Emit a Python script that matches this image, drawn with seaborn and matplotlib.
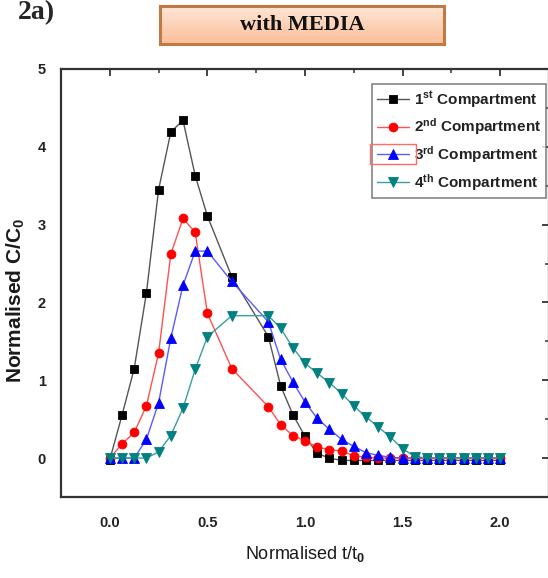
import numpy as np
import pandas as pd
import matplotlib
matplotlib.use("Agg")
import matplotlib.pyplot as plt
from matplotlib.ticker import MultipleLocator
from matplotlib.patches import Rectangle
import seaborn as sns

# Normalised time t/t0 (shared by all compartments)
t_norm = [0, 0.0625, 0.125, 0.1875, 0.25, 0.3125, 0.375, 0.4375, 0.5, 0.625,
          0.8125, 0.875, 0.9375, 1.0, 1.0625, 1.125, 1.1875, 1.25, 1.3125, 1.375,
          1.4375, 1.5, 1.5625, 1.625, 1.6875, 1.75, 1.8125, 1.875, 1.9375, 2.0]

# Normalised concentration C/C0 per compartment
comp1 = [-0.02, 0.55, 1.15, 2.12, 3.45, 4.19, 4.34, 3.63, 3.11, 2.33,
         1.56, 0.93, 0.56, 0.28, 0.06, 0.0, -0.03, -0.03, -0.03, -0.03,
         -0.03, -0.03, -0.03, -0.03, -0.03, -0.03, -0.03, -0.03, -0.03, -0.03]
comp2 = [0.0, 0.18, 0.33, 0.67, 1.35, 2.62, 3.08, 2.90, 1.86, 1.15,
         0.66, 0.43, 0.29, 0.22, 0.14, 0.11, 0.09, 0.03, 0.01, 0.0,
         0.0, 0.0, 0.0, 0.0, 0.0, 0.0, 0.0, 0.0, 0.0, 0.0]
comp3 = [0.0, 0.0, 0.0, 0.24, 0.71, 1.54, 2.22, 2.66, 2.66, 2.27,
         1.75, 1.27, 0.98, 0.72, 0.51, 0.37, 0.24, 0.15, 0.07, 0.035,
         0.01, 0.0, 0.0, 0.0, 0.0, 0.0, 0.0, 0.0, 0.0, 0.0]
comp4 = [0.0, 0.0, 0.0, 0.0, 0.08, 0.29, 0.64, 1.14, 1.56, 1.83,
         1.83, 1.67, 1.42, 1.22, 1.09, 0.97, 0.83, 0.67, 0.53, 0.40,
         0.27, 0.12, 0.02, 0.0, 0.0, 0.0, 0.0, 0.0, 0.0, 0.0]

labels = ["1$^{\\mathrm{st}}$ Compartment", "2$^{\\mathrm{nd}}$ Compartment",
          "3$^{\\mathrm{rd}}$ Compartment", "4$^{\\mathrm{th}}$ Compartment"]
series = [comp1, comp2, comp3, comp4]
markers = ["s", "o", "^", "v"]
marker_colors = ["#000000", "#FF0000", "#0000FF", "#008080"]
line_colors = ["#555555", "#FF5050", "#5A5AFF", "#3A9E9E"]
marker_sizes = [6.2, 6.4, 7.2, 7.2]

sns.set_theme(style="white")
plt.rcParams["font.family"] = ["Liberation Sans", "DejaVu Sans"]
plt.rcParams["mathtext.fontset"] = "custom"
plt.rcParams["mathtext.rm"] = "Liberation Sans:bold"
plt.rcParams["mathtext.it"] = "Liberation Sans:bold:italic"
plt.rcParams["mathtext.bf"] = "Liberation Sans:bold"

W, H = 548, 578
fig = plt.figure(figsize=(W / 100, H / 100), dpi=100)
fig.patch.set_facecolor("white")

ax_l, ax_r, ax_t, ax_b = 61, 549, 69, 497
ax = fig.add_axes([ax_l / W, 1 - ax_b / H, (ax_r - ax_l) / W, (ax_b - ax_t) / H])
ax.set_facecolor("white")

for vals, lab, mk, mc, lc, ms in zip(series, labels, markers, marker_colors,
                                     line_colors, marker_sizes):
    df = pd.DataFrame({"t": t_norm, "c": vals})
    sns.lineplot(data=df, x="t", y="c", ax=ax, color=lc, linewidth=1.0,
                 marker=mk, markersize=ms, markerfacecolor=mc,
                 markeredgecolor=mc, markeredgewidth=0.6, label=lab,
                 estimator=None, sort=False)

ax.set_xlim(-0.25, 2.25)
ax.set_ylim(-0.5, 5)
ax.xaxis.set_minor_locator(MultipleLocator(0.25))
ax.yaxis.set_minor_locator(MultipleLocator(0.5))
ax.set_xticks([0, 0.5, 1.0, 1.5, 2.0])
ax.set_xticklabels(["0.0", "0.5", "1.0", "1.5", "2.0"])
ax.set_yticks([0, 1, 2, 3, 4, 5])
ax.set_yticklabels(["0", "1", "2", "3", "4", "5"])

spine_col = "#333333"
for s in ax.spines.values():
    s.set_color(spine_col)
    s.set_linewidth(1.6)

ax.tick_params(axis="both", which="major", direction="out", length=5,
               width=1.3, color=spine_col, labelsize=10.5, pad=6,
               labelcolor="#222222")
ax.tick_params(axis="both", which="minor", direction="out", length=3,
               width=1.1, color=spine_col)
ax.tick_params(axis="x", which="major", pad=9)
ax.tick_params(axis="x", which="both", top=True)
ax.tick_params(axis="y", which="both", right=True)
for lab in ax.get_xticklabels() + ax.get_yticklabels():
    lab.set_fontweight("bold")
# inward ticks on the top and right frame
for tl in ax.xaxis.get_ticklines(minor=False)[1::2] + ax.xaxis.get_ticklines(minor=True)[1::2]:
    tl.set_marker(3)
for tl in ax.yaxis.get_ticklines(minor=False)[1::2] + ax.yaxis.get_ticklines(minor=True)[1::2]:
    tl.set_marker(0)

ax.set_xlabel("Normalised t/t$_{\\mathrm{0}}$", fontsize=13, color="#1a1a1a",
              labelpad=10)
ax.set_ylabel("Normalised C/C$_{\\mathrm{0}}$", fontsize=15, fontweight="bold",
              color="#1a1a1a")
ax.yaxis.set_label_coords(-0.07, 0.46)

leg = ax.legend(loc="upper right", bbox_to_anchor=(0.994, 0.965),
                borderaxespad=0, frameon=True, fancybox=False,
                prop={"weight": "bold", "size": 11}, handlelength=2.1,
                handletextpad=0.3, labelspacing=0.44, borderpad=0.34)
leg.get_frame().set_edgecolor("#666666")
leg.get_frame().set_linewidth(1.2)
for txt in leg.get_texts():
    txt.set_color("#222222")

# selection outline around the third legend key
fig.canvas.draw()
key = leg.legend_handles[2]
bb = key.get_window_extent(fig.canvas.get_renderer())
pad_x, pad_y = 2, 10
sel = Rectangle((bb.x0 - pad_x, bb.y0 + bb.height / 2 - pad_y),
                bb.width + 2 * pad_x, 2 * pad_y, transform=None,
                fill=False, edgecolor="#FF6A6A", linewidth=1.0, zorder=10)
fig.patches.append(sel)

# panel tag
fig.text(18 / W, 1 - 13 / H, "2a)", fontsize=20, fontweight="bold",
         family=["Liberation Serif", "DejaVu Serif"], va="center", ha="left")

# title badge with a soft orange gradient
bx_l, bx_r, bx_t, bx_b = 160, 444, 6, 44
bax = fig.add_axes([bx_l / W, 1 - bx_b / H, (bx_r - bx_l) / W, (bx_b - bx_t) / H])
grad = np.linspace(0, 1, 64).reshape(-1, 1)
top_c = np.array([1.0, 0.90, 0.84])
bot_c = np.array([0.98, 0.75, 0.60])
img = top_c[None, None, :] * (1 - grad[:, :, None]) + bot_c[None, None, :] * grad[:, :, None]
bax.imshow(img, aspect="auto", extent=[0, 1, 0, 1])
bax.set_xlim(0, 1)
bax.set_ylim(0, 1)
bax.set_xticks([])
bax.set_yticks([])
for s in bax.spines.values():
    s.set_color("#C27A45")
    s.set_linewidth(2.2)
bax.text(0.5, 0.5, "with MEDIA", ha="center", va="center", fontsize=16,
         fontweight="bold", family=["Liberation Serif", "DejaVu Serif"],
         color="#111111", transform=bax.transAxes)

fig.savefig("out.png", dpi=100, facecolor="white")
